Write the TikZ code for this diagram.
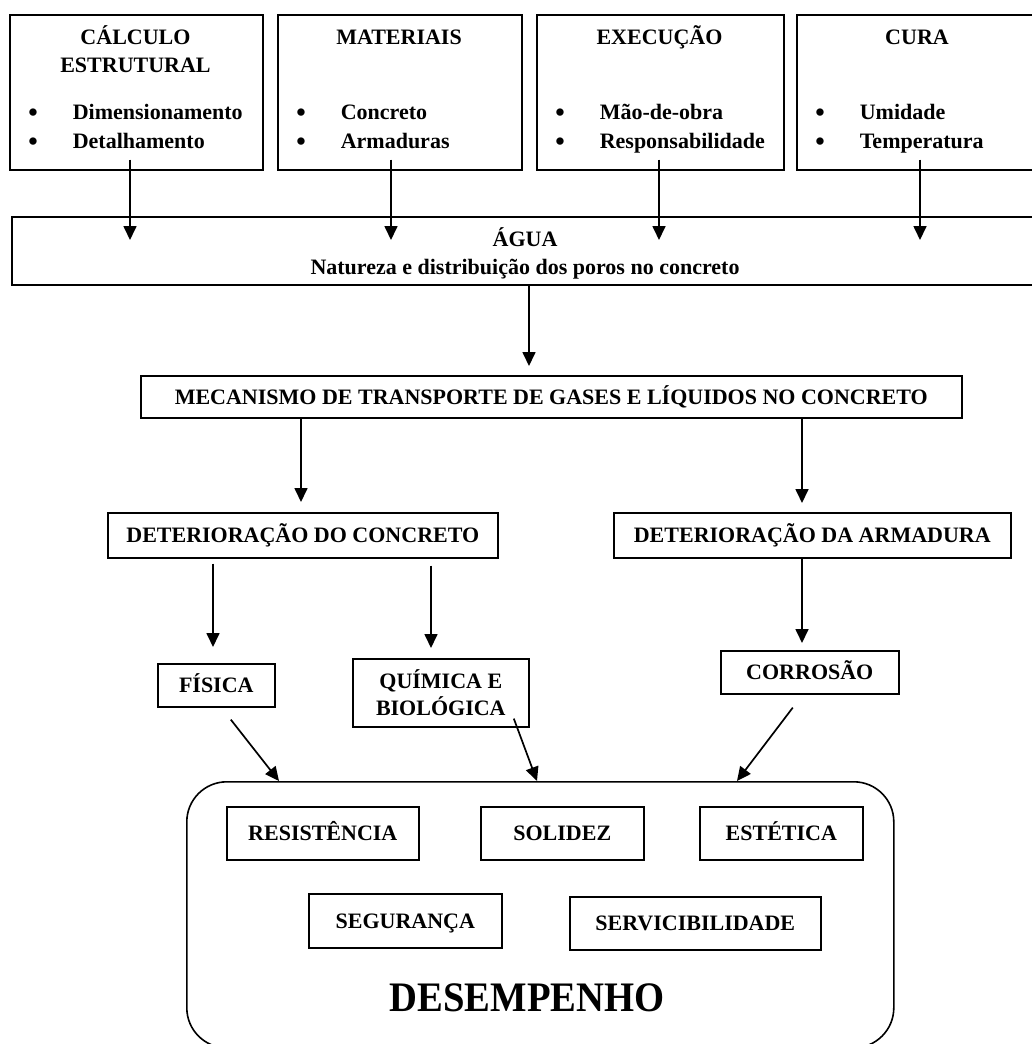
\documentclass[tikz,border=0pt]{standalone}
\usepackage{fontspec}
\setmainfont{Liberation Serif}
\usetikzlibrary{arrows.meta}
\begin{document}
\begin{tikzpicture}[x=1pt,y=-1pt,line width=1.6pt,
  box/.style={draw,rectangle,inner sep=0pt,anchor=north west,align=center,
    text height=14.6pt,text depth=0pt,
    font=\fontsize{22}{27}\selectfont\bfseries},
  boxm/.style={draw,rectangle,inner sep=0pt,anchor=north west,align=center,
    font=\fontsize{22}{27}\selectfont\bfseries},
  lbl/.style={inner sep=0pt,anchor=base,font=\fontsize{22}{27}\selectfont\bfseries},
  lblw/.style={inner sep=0pt,anchor=base west,font=\fontsize{22}{27}\selectfont\bfseries},
  dot/.style={inner sep=0pt,anchor=base,font=\fontsize{27}{27}\selectfont\bfseries},
  arr/.style={-{Triangle[length=14pt,width=13pt]},line width=1.7pt}]
\useasboundingbox (0,0) rectangle (1032,1044);
\clip (0,0) rectangle (1032,1044);
% top boxes
\node[boxm,minimum width=253pt,minimum height=155pt] (b1) at (9,14) {};
\node[boxm,minimum width=244pt,minimum height=155pt] (b2) at (277,14) {};
\node[boxm,minimum width=247pt,minimum height=155pt] (b3) at (536,14) {};
\node[boxm,minimum width=245pt,minimum height=155pt] (b4) at (796,14) {};
\node[lbl] (t1a) at (135.5,44) {CÁLCULO};
\node[lbl] (t1b) at (135.5,72) {ESTRUTURAL};
\node[lbl] (t2) at (399,44) {MATERIAIS};
\node[lbl] (t3) at (659.5,44) {EXECUÇÃO};
\node[lbl] (t4) at (917,44) {CURA};
% bullets
\node[dot] (p1a) at (33,121) {•};  \node[lblw] (i1a) at (72,119) {Dimensionamento};
\node[dot] (p1b) at (33,150) {•};  \node[lblw] (i1b) at (72,148) {Detalhamento};
\node[dot] (p2a) at (301,121) {•}; \node[lblw] (i2a) at (340,119) {Concreto};
\node[dot] (p2b) at (301,150) {•}; \node[lblw] (i2b) at (340,148) {Armaduras};
\node[dot] (p3a) at (560,121) {•}; \node[lblw] (i3a) at (599,119) {Mão-de-obra};
\node[dot] (p3b) at (560,150) {•}; \node[lblw] (i3b) at (599,148) {Responsabilidade};
\node[dot] (p4a) at (820,121) {•}; \node[lblw] (i4a) at (859,119) {Umidade};
\node[dot] (p4b) at (820,150) {•}; \node[lblw] (i4b) at (859,148) {Temperatura};
% water
\node[boxm,minimum width=1030pt,minimum height=68pt] (water) at (11,216) {};
\node[lbl] (w1) at (525,246) {ÁGUA};
\node[lbl] (w2) at (525,274) {Natureza e distribuição dos poros no concreto};
% middle boxes
\node[box,minimum width=821pt,minimum height=42pt] (mech) at (140,375) {MECANISMO DE TRANSPORTE DE GASES E LÍQUIDOS NO CONCRETO};
\node[box,minimum width=390pt,minimum height=45pt] (detc) at (107,512) {DETERIORAÇÃO DO CONCRETO};
\node[box,minimum width=397pt,minimum height=45pt] (deta) at (613,512) {DETERIORAÇÃO DA ARMADURA};
\node[box,minimum width=117pt,minimum height=43pt] (fis) at (157,663) {FÍSICA};
\node[boxm,minimum width=176pt,minimum height=68pt] (qui) at (352,658) {QUÍMICA E\\BIOLÓGICA};
\node[box,minimum width=178pt,minimum height=43pt] (cor) at (720,650) {CORROSÃO};
% performance
\node[draw,rectangle,rounded corners=40pt,inner sep=0pt,anchor=north west,
  minimum width=707pt,minimum height=266pt] (desemp) at (186,781) {};
\node[box,minimum width=192pt,minimum height=53pt] (res) at (226,806) {RESISTÊNCIA};
\node[box,minimum width=163pt,minimum height=53pt] (sol) at (480,806) {SOLIDEZ};
\node[box,minimum width=163pt,minimum height=53pt] (est) at (699,806) {ESTÉTICA};
\node[box,minimum width=193pt,minimum height=54pt] (seg) at (308,893) {SEGURANÇA};
\node[box,minimum width=251pt,minimum height=53pt] (ser) at (569,896) {SERVICIBILIDADE};
\node[inner sep=0pt,font=\fontsize{42}{50}\selectfont\bfseries] (dtext) at (527,998) {\scalebox{0.92}[1]{DESEMPENHO}};
% x positions
\coordinate (x1) at (130,0);
\coordinate (x2) at (391,0);
\coordinate (x3) at (659,0);
\coordinate (x4) at (920,0);
\coordinate (x5) at (529,0);
\coordinate (x6) at (301,0);
\coordinate (x7) at (802,0);
\coordinate (x8) at (213,0);
\coordinate (x9) at (431,0);
% arrows
\draw[arr,shorten <=-11pt,shorten >=-24pt] (b1.south -| x1) -- (water.north -| x1);
\draw[arr,shorten <=-11pt,shorten >=-24pt] (b2.south -| x2) -- (water.north -| x2);
\draw[arr,shorten <=-11pt,shorten >=-24pt] (b3.south -| x3) -- (water.north -| x3);
\draw[arr,shorten <=-11pt,shorten >=-24pt] (b4.south -| x4) -- (water.north -| x4);
\draw[arr,shorten >=9pt] (water.south -| x5) -- (mech.north -| x5);
\draw[arr,shorten >=10pt] (mech.south -| x6) -- (detc.north -| x6);
\draw[arr,shorten >=9pt] (mech.south -| x7) -- (deta.north -| x7);
\draw[arr,shorten <=5pt,shorten >=16pt] (detc.south -| x8) -- (fis.north -| x8);
\draw[arr,shorten <=7pt,shorten >=10pt] (detc.south -| x9) -- (qui.north -| x9);
\draw[arr,shorten >=7pt] (deta.south -| x7) -- (cor.north -| x7);
\draw[arr] ([xshift=14.5pt,yshift=-12pt]fis.south) -- ([xshift=93pt]desemp.north west);
\draw[arr] ([xshift=73pt,yshift=9pt]qui.south) -- ([xshift=351pt]desemp.north west);
\draw[arr] ([xshift=-17pt,yshift=-13pt]cor.south) -- ([xshift=551pt]desemp.north west);
\end{tikzpicture}
\end{document}
